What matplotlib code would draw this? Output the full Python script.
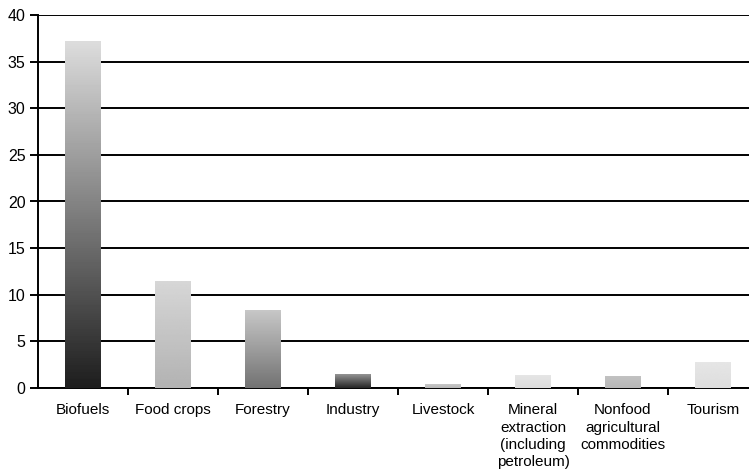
import numpy as np
from matplotlib import pyplot as plt

categories = ["Biofuels", "Food crops", "Forestry", "Industry", "Livestock",
              "Mineral\nextraction\n(including\npetroleum)",
              "Nonfood\nagricultural\ncommodities", "Tourism"]
values = [37.2, 11.4, 8.3, 1.5, 0.4, 1.3, 1.2, 2.7]
# grey level at bottom / top of each bar (0 = black, 1 = white)
shade_bottom = [0.12, 0.70, 0.45, 0.15, 0.72, 0.86, 0.72, 0.87]
shade_top = [0.86, 0.84, 0.78, 0.58, 0.78, 0.90, 0.76, 0.90]
yticks = [0, 5, 10, 15, 20, 25, 30, 35, 40]

plt.rcParams["font.family"] = ["Liberation Sans", "DejaVu Sans"]

fig = plt.figure(figsize=(7.49, 4.70), dpi=100)
ax = fig.add_axes([38 / 749, 82 / 470, 720 / 749, 373 / 470])

x = np.arange(len(categories))
w = 0.39
for xi, v, b, t in zip(x, values, shade_bottom, shade_top):
    grad = np.linspace(t, b, 64).reshape(-1, 1)
    ax.imshow(grad, cmap="gray", vmin=0, vmax=1, aspect="auto",
              extent=[xi - w / 2, xi + w / 2, 0, v], zorder=3,
              interpolation="bilinear")

ax.set_xlim(-0.5, len(categories) - 0.5)
ax.set_ylim(0, 40)
ax.set_yticks(yticks)
ax.yaxis.grid(True, color="black", linewidth=1.4)
ax.set_axisbelow(True)

ax.set_xticks(x)
ax.set_xticklabels(categories, fontsize=11, linespacing=1.3)
ax.set_xticks(np.arange(len(categories)) + 0.5, minor=True)
ax.tick_params(axis="x", which="major", length=0, pad=11)
ax.tick_params(axis="x", which="minor", length=5, width=1.4, direction="out")
ax.tick_params(axis="y", length=6, width=1.4, labelsize=11.5, pad=3)

for side in ["top", "right"]:
    ax.spines[side].set_visible(False)
for side in ["left", "bottom"]:
    ax.spines[side].set_linewidth(1.4)

plt.savefig("out.png", dpi=100)
